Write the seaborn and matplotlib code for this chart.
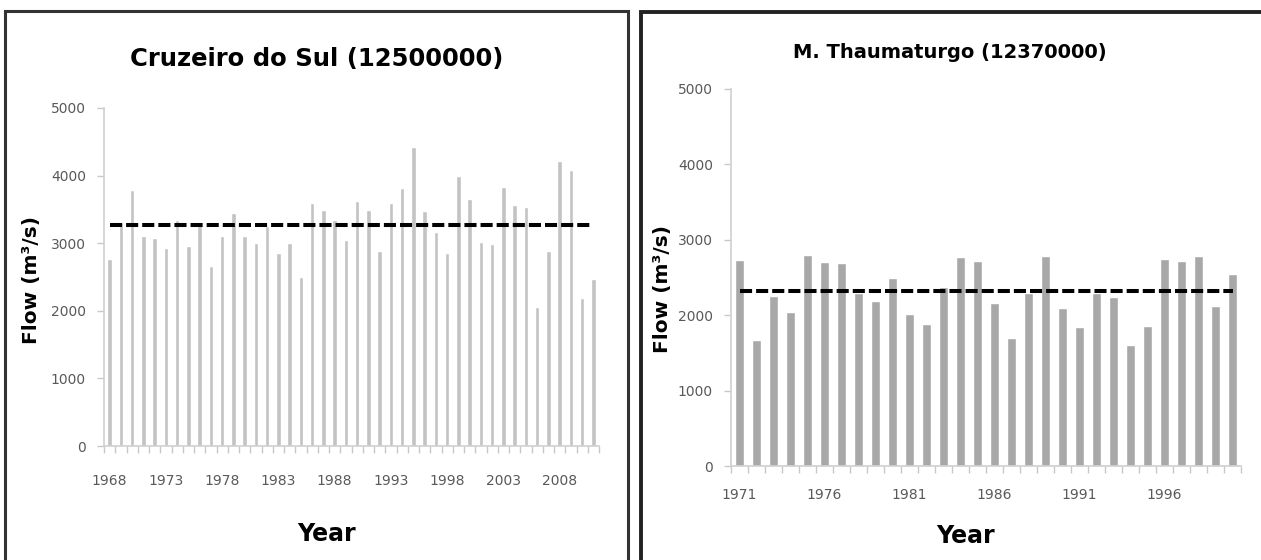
import numpy as np
import pandas as pd
import matplotlib
matplotlib.use("Agg")
import matplotlib.pyplot as plt
import seaborn as sns
from matplotlib.patches import Rectangle
from matplotlib.ticker import FixedLocator, NullFormatter

# Cruzeiro do Sul (12500000), annual flow 1968-2011
cruzeiro_years = list(range(1968, 2012))
cruzeiro_flow = [2770, 3320, 3780, 3110, 3070, 2930, 3350, 2960, 3270, 2660,
                 3110, 3440, 3110, 3000, 3250, 2850, 3000, 2500, 3600, 3490,
                 3350, 3050, 3630, 3490, 2880, 3600, 3820, 4420, 3470, 3160,
                 2850, 4000, 3650, 3020, 2990, 3830, 3560, 3540, 2050, 2890,
                 4220, 4080, 2190, 2470]
cruzeiro_mean = 3265

# M. Thaumaturgo (12370000), annual flow 1971-2000
thaum_years = list(range(1971, 2001))
thaum_flow = [2730, 1670, 2250, 2040, 2800, 2700, 2690, 2300, 2190, 2490,
              2020, 1880, 2370, 2770, 2720, 2160, 1700, 2290, 2780, 2090,
              1840, 2300, 2240, 1600, 1860, 2740, 2720, 2780, 2120, 2550]
thaum_mean = 2323

y_ticks = [0, 1000, 2000, 3000, 4000, 5000]

sns.set_style("white")
plt.rcParams["font.family"] = ["DejaVu Sans"]
plt.rcParams["text.color"] = "black"
plt.rcParams["axes.labelcolor"] = "black"

fig = plt.figure(figsize=(12.61, 5.6), dpi=100)


def draw_panel(ax, years, flow, mean, color, width, title, title_size, title_xy,
               ylabel_xy, xlabel_xy, xpad):
    df = pd.DataFrame({"Year": years, "Flow": flow})
    n = len(df)
    sns.barplot(data=df, x="Year", y="Flow", color=color, width=width,
                saturation=1, ax=ax)
    ax.plot(np.arange(n), np.full(n, mean), color="black", lw=2.9,
            ls=(0, (3.0, 1.0)), zorder=3)

    ax.set_xlim(-0.5, n - 0.5)
    ax.set_ylim(0, 5000)
    ax.set_yticks(y_ticks)
    ax.set_yticklabels([str(t) for t in y_ticks], fontsize=10, color="#595959")

    labels = [str(y) if (y - years[0]) % 5 == 0 else "" for y in years]
    ax.set_xticks(np.arange(n))
    ax.set_xticklabels(labels, fontsize=10, color="#595959")
    ax.xaxis.set_minor_locator(FixedLocator(np.arange(n + 1) - 0.5))
    ax.xaxis.set_minor_formatter(NullFormatter())
    ax.tick_params(axis="x", which="major", length=0, pad=xpad)
    ax.tick_params(axis="x", which="minor", length=5, width=1, color="#c8c8c8",
                   direction="out", bottom=True)
    ax.tick_params(axis="y", length=5, width=1, color="#c8c8c8", left=True,
                   pad=8)

    for s in ["top", "right"]:
        ax.spines[s].set_visible(False)
    for s in ["left", "bottom"]:
        ax.spines[s].set_color("#d0d0d0")
        ax.spines[s].set_linewidth(1.2)

    ax.set_title(title, fontsize=title_size, fontweight="bold",
                 x=title_xy[0], y=title_xy[1], va="center")
    ax.set_ylabel("Flow (m³/s)", fontsize=14.5, fontweight="bold")
    ax.yaxis.set_label_coords(*ylabel_xy)
    ax.set_xlabel("Year", fontsize=17, fontweight="bold")
    ax.xaxis.set_label_coords(*xlabel_xy)


W, H = 1261, 560

ax1 = fig.add_axes([104 / W, 1 - 446 / H, (599 - 104) / W, (446 - 108) / H])
draw_panel(ax1, cruzeiro_years, cruzeiro_flow, cruzeiro_mean, "#c3c3c3", 0.38,
           "Cruzeiro do Sul (12500000)", 17.5, (0.43, 1.12),
           (-0.128, 0.49), (0.45, -0.225), 20)

ax2 = fig.add_axes([731 / W, 1 - 466 / H, (1241 - 731) / W, (466 - 89) / H])
draw_panel(ax2, thaum_years, thaum_flow, thaum_mean, "#a8a8a8", 0.5,
           "M. Thaumaturgo (12370000)", 14, (0.43, 1.075),
           (-0.115, 0.47), (0.46, -0.155), 16)

# panel borders
fig.patches.append(Rectangle((5 / W, -0.05), (628 - 5) / W, 1.05 - 11 / H,
                             transform=fig.transFigure, fill=False,
                             edgecolor="#333333", lw=2.2))
fig.patches.append(Rectangle((641 / W, -0.05), 0.6, 1.05 - 12 / H,
                             transform=fig.transFigure, fill=False,
                             edgecolor="#222222", lw=2.8))

fig.savefig("out.png", dpi=100)
